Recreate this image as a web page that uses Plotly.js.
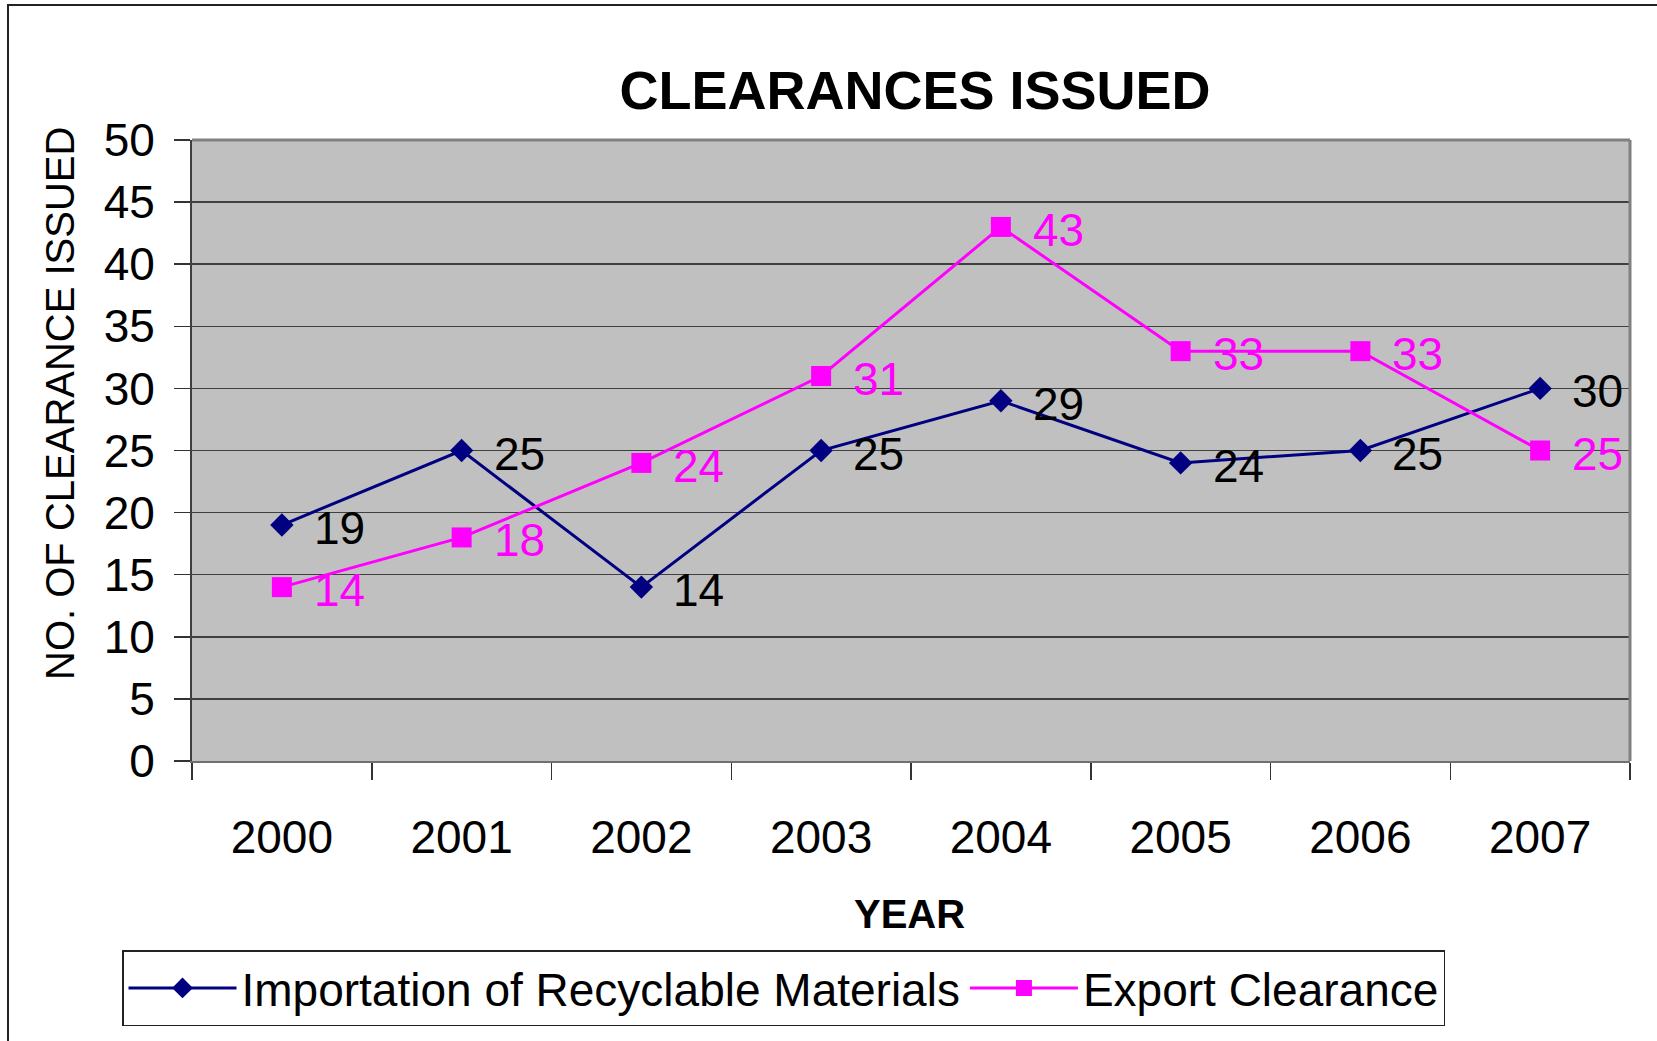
<!DOCTYPE html>
<html>
<head>
<meta charset="utf-8">
<script src="https://cdn.plot.ly/plotly-3.0.1.min.js"></script>
<style>
  html, body { margin: 0; padding: 0; background: #ffffff; }
  #chart { width: 1657px; height: 1041px; }
</style>
</head>
<body>
<div id="chart"></div>
<script>
// ---- data ----
const years = ['2000', '2001', '2002', '2003', '2004', '2005', '2006', '2007'];
const importation = [19, 25, 14, 25, 29, 24, 25, 30];
const exportClearance = [14, 18, 24, 31, 43, 33, 33, 25];
const seriesNames = ['Importation of Recyclable Materials', 'Export Clearance'];
const yTicks = [0, 5, 10, 15, 20, 25, 30, 35, 40, 45, 50];

const FONT = '"Liberation Sans", Arial, Helvetica, sans-serif';
const NAVY = '#000080';
const MAGENTA = '#FF00FF';

const traces = [
  {
    x: years, y: importation, name: seriesNames[0], type: 'scatter', mode: 'lines+markers',
    line: { color: NAVY, width: 3 },
    marker: { symbol: 'diamond', size: 18, color: NAVY }
  },
  {
    x: years, y: exportClearance, name: seriesNames[1], type: 'scatter', mode: 'lines+markers',
    line: { color: MAGENTA, width: 3 },
    marker: { symbol: 'square', size: 20, color: MAGENTA }
  }
];

// data labels: category index is the position on the category axis
function labels(ys, color) {
  return ys.map((v, i) => ({
    x: i, y: v, xref: 'x', yref: 'y', text: String(v),
    showarrow: false, xanchor: 'left', yanchor: 'middle',
    xshift: 30, yshift: -3,
    font: { family: FONT, size: 46, color: color }
  }));
}

const annotations = [
  ...labels(importation, '#000000'),
  ...labels(exportClearance, MAGENTA),
  {
    text: 'NO. OF CLEARANCE ISSUED', xref: 'paper', yref: 'paper',
    x: (60 - 192) / 1438, y: (761 - 404) / 621, textangle: -90,
    showarrow: false, xanchor: 'center', yanchor: 'middle',
    font: { family: FONT, size: 40, color: '#000000' }
  },
  {
    text: '<b>YEAR</b>', xref: 'paper', yref: 'paper',
    x: (909 - 192) / 1438, y: (761 - 914) / 621,
    showarrow: false, xanchor: 'center', yanchor: 'middle',
    font: { family: FONT, size: 40, color: '#000000' }
  }
];

const layout = {
  width: 1657, height: 1041,
  margin: { l: 192, r: 27, t: 140, b: 280, pad: 0, autoexpand: false },
  paper_bgcolor: '#ffffff',
  plot_bgcolor: '#C0C0C0',
  font: { family: FONT, size: 46, color: '#000000' },
  title: {
    text: '<b>CLEARANCES ISSUED</b>',
    font: { family: FONT, size: 54, color: '#000000' },
    xref: 'paper', x: 0.5028, xanchor: 'center',
    yref: 'container', y: 1 - 90 / 1041, yanchor: 'middle'
  },
  showlegend: true,
  legend: {
    orientation: 'h',
    x: (122 - 192) / 1438, xanchor: 'left',
    y: (761 - 950) / 621, yanchor: 'top',
    bgcolor: '#ffffff', bordercolor: '#222222', borderwidth: 1.5,
    font: { family: FONT, size: 46, color: '#000000' },
    itemwidth: 108,
    traceorder: 'normal'
  },
  xaxis: {
    type: 'category',
    range: [-0.5, 7.5],
    showgrid: false, zeroline: false,
    showline: true, linecolor: '#707070', linewidth: 2, mirror: false,
    ticks: 'outside', ticklen: 17, tickwidth: 1.5, tickcolor: '#333333',
    tickson: 'boundaries',
    ticklabelstandoff: 35,
    tickfont: { family: FONT, size: 46, color: '#000000' },
    fixedrange: true
  },
  yaxis: {
    range: [0, 50],
    tickvals: yTicks,
    ticktext: yTicks.map(String),
    showgrid: true, gridcolor: '#404040', gridwidth: 1.5,
    zeroline: false,
    showline: true, linecolor: '#404040', linewidth: 2, mirror: false,
    ticks: 'outside', ticklen: 16, tickwidth: 1.5, tickcolor: '#333333',
    ticklabelstandoff: 10,
    tickfont: { family: FONT, size: 46, color: '#000000' },
    fixedrange: true
  },
  annotations: annotations,
  shapes: [
    { type: 'line', xref: 'paper', yref: 'paper', x0: 0, x1: 1, y0: 1, y1: 1,
      line: { color: '#808080', width: 3 } },
    { type: 'line', xref: 'paper', yref: 'paper', x0: 1, x1: 1, y0: 0, y1: 1,
      line: { color: '#808080', width: 3 } },
    { type: 'rect', xref: 'paper', yref: 'paper',
      x0: (8 - 192) / 1438, x1: 1.2, y0: -0.6, y1: (761 - 5) / 621,
      line: { color: '#222222', width: 2 }, fillcolor: 'rgba(0,0,0,0)', layer: 'below' }
  ]
};

Plotly.newPlot('chart', traces, layout, { displayModeBar: false, staticPlot: true });
</script>
</body>
</html>
